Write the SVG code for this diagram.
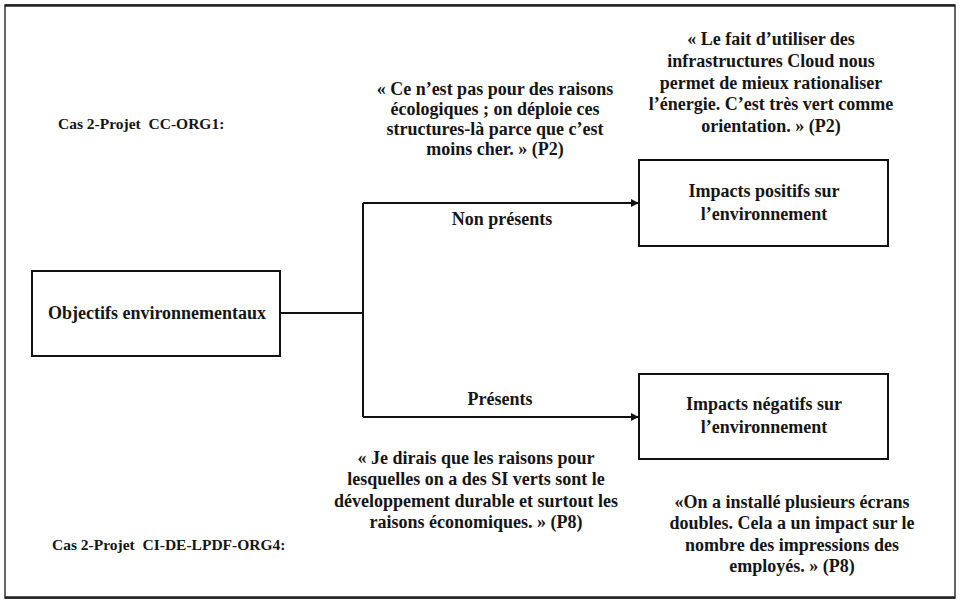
<svg xmlns="http://www.w3.org/2000/svg" width="960" height="605" viewBox="0 0 960 605">
<style>
  text { font-family: "Liberation Serif", "Times New Roman", serif; font-weight: bold; fill: #151515; text-anchor: middle; }
  .q { font-size: 18px; }
  .lbl { font-size: 15.5px; text-anchor: start; }
  .box { fill: #ffffff; stroke: #111; stroke-width: 2; }
  .conn { fill: none; stroke: #111; stroke-width: 2; }
</style>
<defs>
  <marker id="arr" viewBox="0 0 10 10" refX="9" refY="5" markerWidth="4" markerHeight="4" orient="auto" markerUnits="strokeWidth">
    <path d="M0,0 L10,5 L0,10 z" fill="#111"/>
  </marker>
</defs>
<rect x="0" y="0" width="960" height="605" fill="#ffffff"/>
<rect x="5" y="5" width="950" height="593" fill="none" stroke="#333" stroke-width="1.5"/>
<line x1="5" y1="5.5" x2="955" y2="5.5" stroke="#222" stroke-width="2.5"/>
<line x1="5" y1="597.5" x2="955" y2="597.5" stroke="#222" stroke-width="2.5"/>

<text class="lbl" x="58" y="129" xml:space="preserve">Cas 2-Projet  CC-ORG1:</text>
<text class="lbl" x="52" y="550" xml:space="preserve">Cas 2-Projet  CI-DE-LPDF-ORG4:</text>

<g id="quote1">
  <text class="q" x="495" y="95">« Ce n’est pas pour des raisons</text>
  <text class="q" x="495" y="115">écologiques ; on déploie ces</text>
  <text class="q" x="495" y="135">structures-là parce que c’est</text>
  <text class="q" x="495" y="155">moins cher. » (P2)</text>
</g>
<g id="quote2">
  <text class="q" x="771" y="45">« Le fait d’utiliser des</text>
  <text class="q" x="771" y="67">infrastructures Cloud nous</text>
  <text class="q" x="771" y="89">permet de mieux rationaliser</text>
  <text class="q" x="771" y="110">l’énergie. C’est très vert comme</text>
  <text class="q" x="771" y="132">orientation. » (P2)</text>
</g>
<g id="quote3">
  <text class="q" x="476" y="464">« Je dirais que les raisons pour</text>
  <text class="q" x="476" y="485">lesquelles on a des SI verts sont le</text>
  <text class="q" x="476" y="507">développement durable et surtout les</text>
  <text class="q" x="476" y="528">raisons économiques. » (P8)</text>
</g>
<g id="quote4">
  <text class="q" x="792" y="508">«On a installé plusieurs écrans</text>
  <text class="q" x="792" y="529">doubles. Cela a un impact sur le</text>
  <text class="q" x="792" y="551">nombre des impressions des</text>
  <text class="q" x="792" y="572">employés. » (P8)</text>
</g>

<g id="connectors">
  <polyline class="conn" points="280,313 363,313"/>
  <polyline class="conn" points="363,203 363,417"/>
  <polyline class="conn" points="363,203 638,203" marker-end="url(#arr)"/>
  <polyline class="conn" points="363,417 638,417" marker-end="url(#arr)"/>
  <text class="q" x="502" y="225">Non présents</text>
  <text class="q" x="500" y="405">Présents</text>
</g>

<g id="node-objectifs">
  <rect class="box" x="32" y="271" width="248" height="85"/>
  <text class="q" x="157" y="319">Objectifs environnementaux</text>
</g>
<g id="node-positifs">
  <rect class="box" x="639" y="160" width="249" height="86"/>
  <text class="q" x="764" y="197">Impacts positifs sur</text>
  <text class="q" x="764" y="220">l’environnement</text>
</g>
<g id="node-negatifs">
  <rect class="box" x="639" y="374" width="249" height="85"/>
  <text class="q" x="764" y="410">Impacts négatifs sur</text>
  <text class="q" x="764" y="433">l’environnement</text>
</g>
</svg>
